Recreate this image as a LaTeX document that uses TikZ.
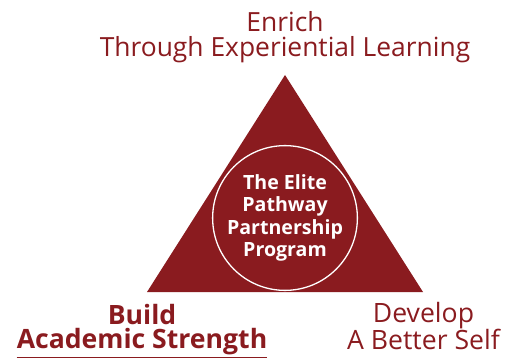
\documentclass[tikz,border=0pt]{standalone}
\usepackage{fontspec}
\setmainfont{Open Sans}
\definecolor{elitered}{HTML}{8A1B1F}
\begin{document}
\begin{tikzpicture}
[x=1pt,y=-1pt,
 every node/.style={text=elitered,align=center,inner sep=0pt},
 goal/.style={font=\fontsize{26.6}{25}\selectfont},
 hub/.style={circle,draw=white,line width=1.3pt,minimum size=133pt,
   text=white,font=\bfseries\fontsize{19.6}{22.5}\selectfont}]
\useasboundingbox (0,0) rectangle (505,358);
\fill [elitered] (285,75) coordinate (apex) -- (423,292) coordinate (right)
  -- (147,292) coordinate (left) -- cycle;
\node [hub] (program) at (285,218) {The Elite\\Pathway\\Partnership\\Program};
\node [goal,font=\fontsize{26.4}{25}\selectfont] (enrich) at (285,37.5)
  {Enrich\\Through Experiential Learning};
\node [goal,font=\bfseries\fontsize{26.6}{24}\selectfont] (build) at (142,330)
  {Build\\Academic Strength};
\node [goal] (develop) at (423.5,326) {Develop\\A Better Self};
\draw [elitered,line width=1pt] ([yshift=-2pt]build.south west)
  -- ([yshift=-2pt]build.south east);
\end{tikzpicture}
\end{document}
